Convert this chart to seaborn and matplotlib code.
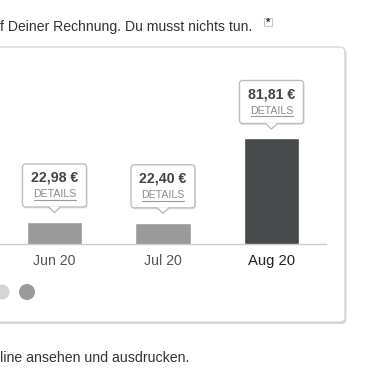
import matplotlib
matplotlib.use('Agg')
from matplotlib import pyplot as plt
from matplotlib.patches import FancyBboxPatch, Polygon, Circle, Rectangle
import seaborn as sns

months = ['Jun 20', 'Jul 20', 'Aug 20']
amounts = [22.98, 22.40, 81.81]
bar_colors = ['#9a9a9a', '#9a9a9a', '#474a4b']
top_text = 'f Deiner Rechnung. Du musst nichts tun.'
bottom_text = 'line ansehen und ausdrucken.'

sns.set_style('white')
plt.rcParams['font.family'] = ['Liberation Sans', 'DejaVu Sans']

W, H = 390, 370
fig = plt.figure(figsize=(W / 100, H / 100), dpi=100)

# chart axes, placed in pixel terms
ax = fig.add_axes([0.25 / W, 126 / H, 325.5 / W, 184 / H])
ax.set_zorder(2)
ax.patch.set_visible(False)
sns.barplot(x=months, y=amounts, hue=months, palette=bar_colors, width=0.507,
            saturation=1, legend=False, ax=ax)
ax.set_xlim(-0.5, 2.5)
ax.set_ylim(7.48, 137.1)
ax.set_yticks([])
ax.set(xlabel='', ylabel='')
for side in ['top', 'left', 'right']:
    ax.spines[side].set_visible(False)
ax.spines['bottom'].set_color('#cccccc')
ax.spines['bottom'].set_linewidth(1)
ax.tick_params(axis='x', length=0, pad=7)
for lbl in ax.get_xticklabels():
    if lbl.get_text() == months[-1]:
        lbl.set_color('#222222')
        lbl.set_fontsize(10.7)
    else:
        lbl.set_color('#555555')
        lbl.set_fontsize(10.2)

# overlay in pixel coordinates (y down) for the page chrome and tooltips
ov = fig.add_axes([0, 0, 1, 1])
ov.set_zorder(1)
ov.set_xlim(0, W)
ov.set_ylim(H, 0)
ov.axis('off')

# card with shadow
ov.add_patch(FancyBboxPatch((-20 + 1.5, 47 + 2), 365, 275,
                            boxstyle='round,pad=0,rounding_size=5',
                            fc='#bbbbbb', ec='none', alpha=0.6))
ov.add_patch(FancyBboxPatch((-20, 47), 365, 275,
                            boxstyle='round,pad=0,rounding_size=5',
                            fc='white', ec='#d6d6d6', lw=1))

ov.text(0, 27, top_text, fontsize=10.1, color='#333333', va='center', ha='left')
ov.add_patch(Rectangle((264, 18), 8, 8, fc='white', ec='#c8c8c8', lw=0.8))
ov.text(268, 22.5, '*', fontsize=8, color='#333333', ha='center', va='center',
        fontweight='bold')
ov.text(0, 358, bottom_text, fontsize=10.2, color='#333333', va='center', ha='left')

# pager dots
ov.add_patch(Circle((2, 292), 7.5, fc='#d5d5d5', ec='none'))
ov.add_patch(Circle((27, 292), 8, fc='#9a9a9a', ec='none'))

# tooltips above each bar
fig.canvas.draw()
to_ov = ax.transData + ov.transData.inverted()
for i, v in enumerate(amounts):
    cx, py = to_ov.transform((i, v))
    bottom = py - 15
    top = bottom - 43
    ov.add_patch(FancyBboxPatch((cx - 32 + 1, top + 1.5), 64, 43,
                                boxstyle='round,pad=0,rounding_size=3',
                                fc='#cccccc', ec='none', alpha=0.5))
    ov.add_patch(FancyBboxPatch((cx - 32, top), 64, 43,
                                boxstyle='round,pad=0,rounding_size=3',
                                fc='white', ec='#bdbdbd', lw=1))
    ov.add_patch(Polygon([(cx - 6, bottom - 0.6), (cx, bottom + 5.5), (cx + 6, bottom - 0.6)],
                         closed=True, fc='white', ec='none', zorder=3))
    ov.plot([cx - 6, cx, cx + 6], [bottom, bottom + 5.5, bottom], color='#bdbdbd',
            lw=1, zorder=4, solid_joinstyle='miter')
    label = f'{v:.2f}'.replace('.', ',') + ' €'
    ov.text(cx, bottom - 29, label, fontsize=10.2, fontweight='bold', color='#444444',
            ha='center', va='center', zorder=5)
    ov.text(cx, bottom - 12.5, 'DETAILS', fontsize=7.6, color='#8a8a8a',
            ha='center', va='center', zorder=5)
    ov.plot([cx - 21, cx + 21], [bottom - 7, bottom - 7], color='#9a9a9a', lw=0.8, zorder=5)

fig.savefig('out.png', dpi=100)
plt.close()
